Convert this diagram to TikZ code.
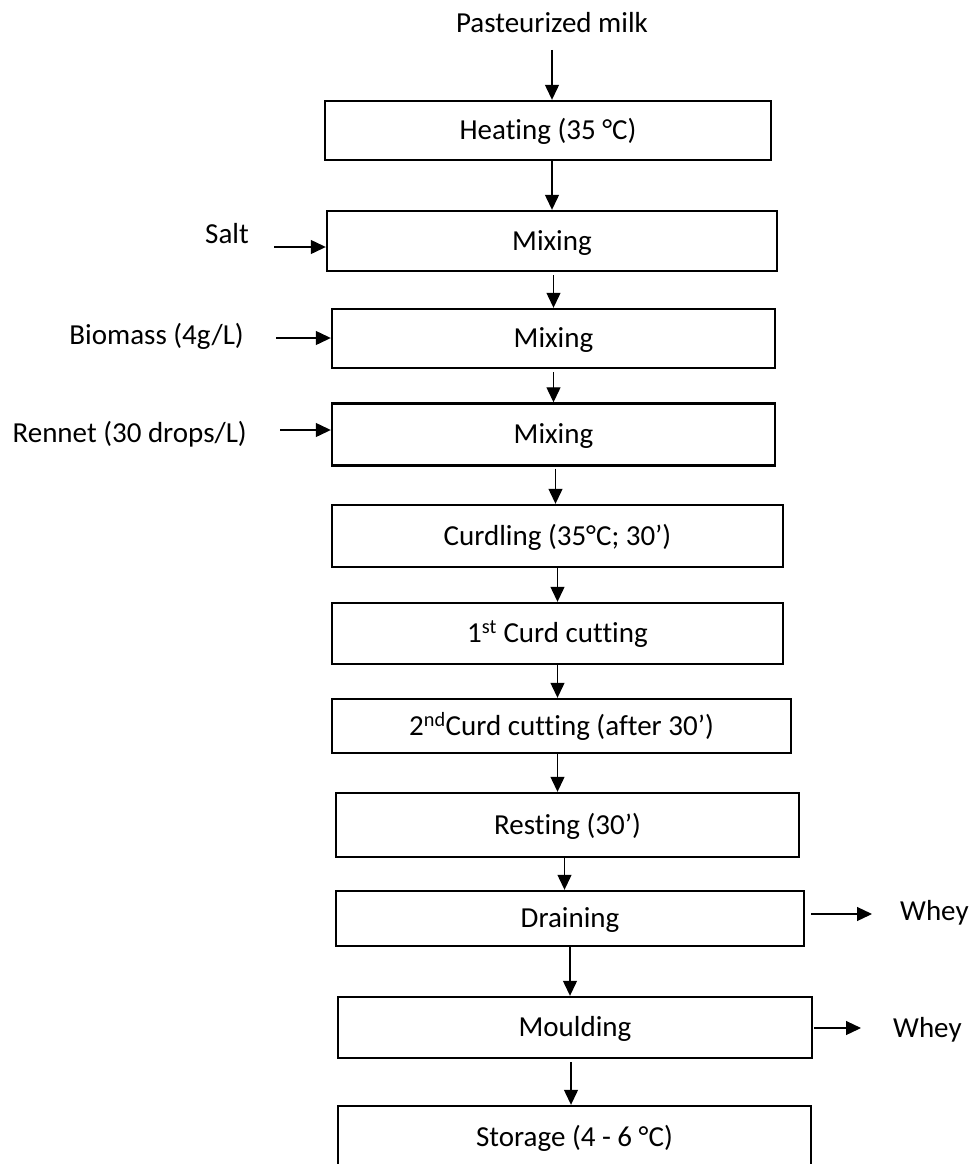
\documentclass[tikz,border=0pt]{standalone}
\usepackage{fontspec}
\setmainfont{Carlito}[Ligatures=NoCommon]
\usetikzlibrary{arrows.meta,calc}
\begin{document}
\begin{tikzpicture}[x=1pt,y=-1pt,
  font=\fontsize{29}{35}\selectfont,
  box/.style={draw, line width=2.4pt, rectangle, inner sep=0pt, text height=18.7pt, text depth=0pt},
  arr/.style={-{Triangle[length=15pt,width=14pt]}, line width=1.2pt},
  lbl/.style={inner sep=0pt}]
\useasboundingbox (0,0) rectangle (974,1164);
\clip (0,0) rectangle (974,1164);

% process boxes
\node[lbl, anchor=base] (milk) at (552,33) {Pasteurized milk};
\node[box, minimum width=446pt, minimum height=59pt] (heat) at (548,130.5) {Heating (35 °C)};
\node[box, minimum width=450pt, minimum height=60pt] (mix1) at (552,241) {Mixing};
\node[box, minimum width=443pt, minimum height=59pt] (mix2) at (553.5,338.5) {Mixing};
\node[box, minimum width=443pt, minimum height=62pt] (mix3) at (553.5,434.5) {Mixing};
\node[box, minimum width=451pt, minimum height=62pt] (curd) at (557.5,536) {Curdling (35°C; 30’)};
\node[box, minimum width=451pt, minimum height=61pt] (cut1) at (557.5,633.5) {1\textsuperscript{st} Curd cutting};
\node[box, minimum width=459pt, minimum height=54pt] (cut2) at (561.5,726) {2\textsuperscript{nd}Curd cutting (after 30’)};
\node[box, minimum width=463pt, minimum height=64pt] (rest) at (567.5,825) {Resting (30’)};
\node[box, minimum width=468pt, minimum height=55pt] (drain) at (570,918.5) {Draining};
\node[box, minimum width=474pt, minimum height=61pt] (mould) at (575,1027.5) {Moulding};
\node[box, minimum width=473pt, minimum height=62pt] (stor) at (574.5,1137) {Storage (4 - 6 °C)};

% main flow
\draw[arr] ($(milk.base)+(0,17)$) -- (milk.base |- heat.north);
\draw[arr] (heat.south -| mix1.north) -- (mix1.north);
\draw[arr] ($(mix1.south -| mix2.north)+(0,3)$) -- (mix2.north);
\draw[arr] ($(mix2.south -| mix3.north)+(0,3)$) -- (mix3.north);
\draw[arr] ($(mix3.south -| curd.north)+(-2,2)$) -- ($(curd.north)+(-2,0)$);
\draw[arr] (curd.south -| cut1.north) -- (cut1.north);
\draw[arr] (cut1.south) -- (cut1.south |- cut2.north);
\draw[arr] ($(cut2.south)+(-4,0)$) -- ($(cut2.south |- rest.north)+(-4,0)$);
\draw[arr] ($(rest.south)+(-3,0)$) -- ($(rest.south |- drain.north)+(-3,0)$);
\draw[arr] (drain.south) -- (drain.south |- mould.north);
\draw[arr] ($(mould.south)+(-4,3)$) -- ($(mould.south |- stor.north)+(-4,0)$);

% inputs
\node[lbl, anchor=base east] (salt) at (249,243) {Salt};
\coordinate (s1) at (274,247);
\draw[arr] (s1) -- (s1 -| mix1.west);
\node[lbl, anchor=base east] (bio) at (244,344) {Biomass (4g/L)};
\coordinate (s2) at (276,338);
\draw[arr] (s2) -- (s2 -| mix2.west);
\node[lbl, anchor=base east] (ren) at (247,442) {Rennet (30 drops/L)};
\coordinate (s3) at (280,430);
\draw[arr] (s3) -- (s3 -| mix3.west);

% outputs
\coordinate (w1) at (872,914);
\draw[arr] ($(drain.east |- w1)+(6,0)$) -- (w1);
\node[lbl, anchor=base west] (whey1) at (900,920) {Whey};
\coordinate (w2) at (861,1028);
\draw[arr] ($(mould.east |- w2)+(1,0)$) -- (w2);
\node[lbl, anchor=base west] (whey2) at (893,1037) {Whey};
\end{tikzpicture}
\end{document}
